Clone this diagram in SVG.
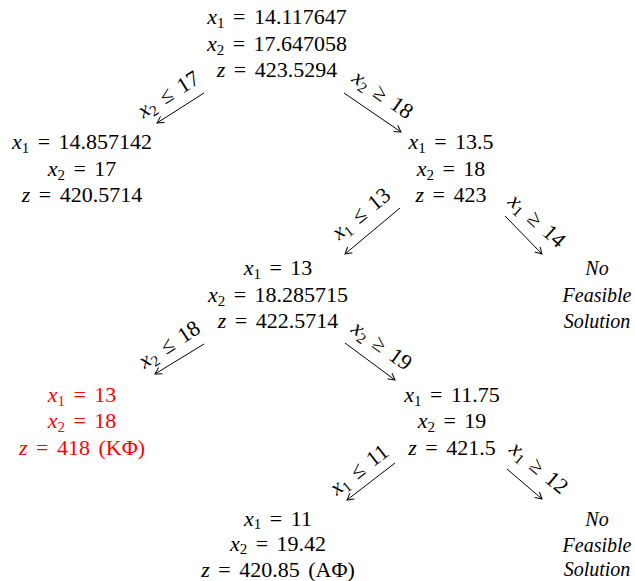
<svg xmlns="http://www.w3.org/2000/svg" width="635" height="581" viewBox="0 0 635 581">
<style>
text { font-family: "Liberation Serif", LiberationSerif, "Times New Roman", Times, "DejaVu Serif", serif; font-size: 22px; text-anchor: middle; word-spacing: 3px; fill: #000; }
.i { font-style: italic; }
.sub { font-size: 15px; }
.red text { fill: #ff0000; }
text.nf { font-style: italic; font-size: 20px; word-spacing: 0; }
.conn line { stroke: #000; stroke-width: 1; fill: none; marker-end: url(#ah); }
</style>
<defs>
<marker id="ah" markerWidth="12" markerHeight="12" refX="10" refY="6" orient="auto" markerUnits="userSpaceOnUse">
<path d="M3.5,2.3 Q8.5,5.2 10,6 Q8.5,6.8 3.5,9.7" fill="none" stroke="#000" stroke-width="1"/>
</marker>
</defs>

<g id="n0">
<text x="277" y="24"><tspan class="i">x</tspan><tspan class="sub" dy="4">1</tspan><tspan dy="-4"> = 14.117647</tspan></text>
<text x="277" y="50.5"><tspan class="i">x</tspan><tspan class="sub" dy="4">2</tspan><tspan dy="-4"> = 17.647058</tspan></text>
<text x="277" y="77"><tspan class="i">z</tspan> = 423.5294</text>
</g>

<g id="n1">
<text x="82" y="149"><tspan class="i">x</tspan><tspan class="sub" dy="4">1</tspan><tspan dy="-4"> = 14.857142</tspan></text>
<text x="82" y="175.5"><tspan class="i">x</tspan><tspan class="sub" dy="4">2</tspan><tspan dy="-4"> = 17</tspan></text>
<text x="82" y="202"><tspan class="i">z</tspan> = 420.5714</text>
</g>

<g id="n2">
<text x="451" y="149"><tspan class="i">x</tspan><tspan class="sub" dy="4">1</tspan><tspan dy="-4"> = 13.5</tspan></text>
<text x="451" y="175.5"><tspan class="i">x</tspan><tspan class="sub" dy="4">2</tspan><tspan dy="-4"> = 18</tspan></text>
<text x="451" y="202"><tspan class="i">z</tspan> = 423</text>
</g>

<g id="n3">
<text x="278" y="275"><tspan class="i">x</tspan><tspan class="sub" dy="4">1</tspan><tspan dy="-4"> = 13</tspan></text>
<text x="278" y="301.5"><tspan class="i">x</tspan><tspan class="sub" dy="4">2</tspan><tspan dy="-4"> = 18.285715</tspan></text>
<text x="278" y="328"><tspan class="i">z</tspan> = 422.5714</text>
</g>

<g id="n4">
<text class="nf" x="597" y="275">No</text>
<text class="nf" x="597" y="301.5">Feasible</text>
<text class="nf" x="597" y="328">Solution</text>
</g>

<g id="n5" class="red">
<text x="82" y="402"><tspan class="i">x</tspan><tspan class="sub" dy="4">1</tspan><tspan dy="-4"> = 13</tspan></text>
<text x="82" y="428"><tspan class="i">x</tspan><tspan class="sub" dy="4">2</tspan><tspan dy="-4"> = 18</tspan></text>
<text x="82" y="454.5"><tspan class="i">z</tspan> = 418 (KΦ)</text>
</g>

<g id="n6">
<text x="452" y="402"><tspan class="i">x</tspan><tspan class="sub" dy="4">1</tspan><tspan dy="-4"> = 11.75</tspan></text>
<text x="452" y="428"><tspan class="i">x</tspan><tspan class="sub" dy="4">2</tspan><tspan dy="-4"> = 19</tspan></text>
<text x="452" y="454.5"><tspan class="i">z</tspan> = 421.5</text>
</g>

<g id="n7">
<text x="278" y="526"><tspan class="i">x</tspan><tspan class="sub" dy="3">1</tspan><tspan dy="-3"> = 11</tspan></text>
<text x="278" y="551"><tspan class="i">x</tspan><tspan class="sub" dy="3">2</tspan><tspan dy="-3"> = 19.42</tspan></text>
<text x="278" y="576.5"><tspan class="i">z</tspan> = 420.85 (AΦ)</text>
</g>

<g id="n8">
<text class="nf" x="597" y="526">No</text>
<text class="nf" x="597" y="551.5">Feasible</text>
<text class="nf" x="597" y="576">Solution</text>
</g>

<g id="connectors" class="conn">
<line x1="204" y1="93" x2="157" y2="123"/>
<line x1="344" y1="93" x2="401" y2="132"/>
<line x1="400" y1="208" x2="345" y2="254"/>
<line x1="505" y1="216" x2="542" y2="254"/>
<line x1="204" y1="344" x2="155" y2="374"/>
<line x1="345" y1="343" x2="395" y2="380"/>
<line x1="395" y1="463" x2="347" y2="500"/>
<line x1="507" y1="469" x2="542" y2="499"/>

<text transform="translate(170,97) rotate(-32)" x="0" y="4"><tspan class="i">x</tspan><tspan class="sub" dy="4">2</tspan><tspan dy="-4"> ≤ 17</tspan></text>
<text transform="translate(381,97) rotate(35)" x="0" y="4"><tspan class="i">x</tspan><tspan class="sub" dy="4">2</tspan><tspan dy="-4"> ≥ 18</tspan></text>
<text transform="translate(363,216) rotate(-39)" x="0" y="4"><tspan class="i">x</tspan><tspan class="sub" dy="4">1</tspan><tspan dy="-4"> ≤ 13</tspan></text>
<text transform="translate(535,223) rotate(42)" x="0" y="4"><tspan class="i">x</tspan><tspan class="sub" dy="4">1</tspan><tspan dy="-4"> ≥ 14</tspan></text>
<text transform="translate(171,347) rotate(-33)" x="0" y="4"><tspan class="i">x</tspan><tspan class="sub" dy="4">2</tspan><tspan dy="-4"> ≤ 18</tspan></text>
<text transform="translate(380,348) rotate(36)" x="0" y="4"><tspan class="i">x</tspan><tspan class="sub" dy="4">2</tspan><tspan dy="-4"> ≥ 19</tspan></text>
<text transform="translate(361,472) rotate(-38)" x="0" y="4"><tspan class="i">x</tspan><tspan class="sub" dy="4">1</tspan><tspan dy="-4"> ≤ 11</tspan></text>
<text transform="translate(537,470) rotate(40)" x="0" y="4"><tspan class="i">x</tspan><tspan class="sub" dy="4">1</tspan><tspan dy="-4"> ≥ 12</tspan></text>
</g>
</svg>
